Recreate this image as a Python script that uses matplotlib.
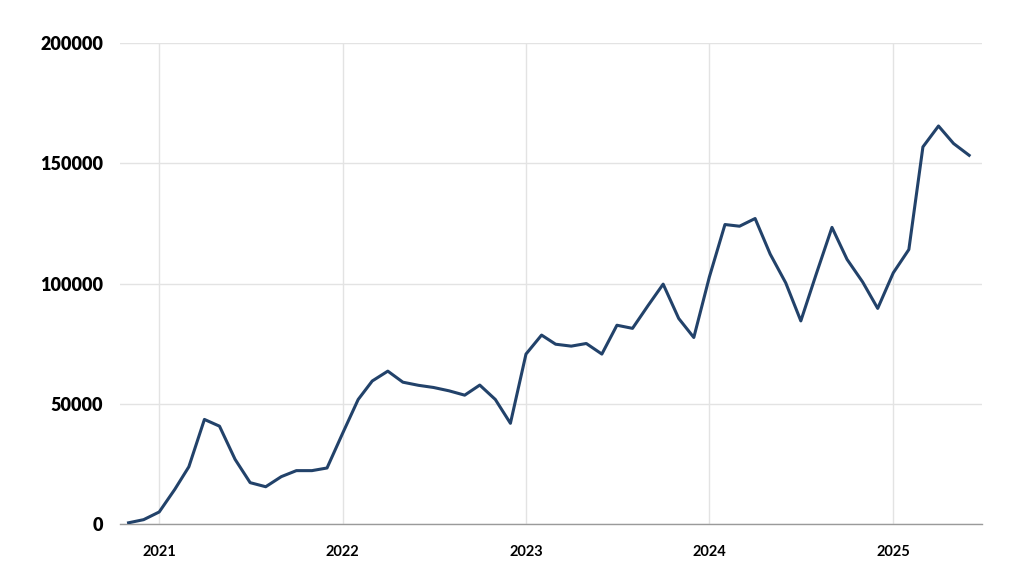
import matplotlib
matplotlib.use("Agg")
import matplotlib.dates as mdates
import matplotlib.pyplot as plt
import pandas as pd

# ── Data (monthly, Nov 2020 – Jun 2025) ───────────────────────────────────────

months = pd.date_range("2020-11-01", "2025-06-01", freq="MS")
values = [
    500, 1800,
    5000, 14400, 23800, 43500, 40700, 26900, 17200, 15500, 19700, 22200, 22200, 23300,
    37700, 51800, 59500, 63600, 59000, 57700, 56800, 55400, 53600, 57800, 51800, 41900,
    70700, 78600, 74800, 74000, 75100, 70700, 82700, 81400, 90900, 99800, 85500, 77600,
    102800, 124600, 123900, 127100, 112300, 100300, 84500, 104200, 123400, 110100, 100700, 89700,
    104500, 114200, 156900, 165600, 158300, 153400,
]
year_ticks = pd.to_datetime(["2021-01-01", "2022-01-01", "2023-01-01", "2024-01-01", "2025-01-01"])
y_ticks = [0, 50000, 100000, 150000, 200000]

LINE = "#22426a"
GRID = "#e3e3e3"

plt.rcParams["font.family"] = ["Lato", "DejaVu Sans"]
plt.rcParams["font.weight"] = "bold"

fig = plt.figure(figsize=(10.24, 5.76), dpi=100)
ax = fig.add_axes([0.1172, 0.0903, 0.8415, 0.8345])

ax.plot(months, values, color=LINE, lw=2.2, zorder=3)

ax.set_xlim(pd.Timestamp("2020-10-15"), pd.Timestamp("2025-06-26"))
ax.set_ylim(0, 200000)
ax.set_xticks(year_ticks)
ax.xaxis.set_major_formatter(mdates.DateFormatter("%Y"))
ax.set_yticks(y_ticks)
ax.set_yticklabels([str(v) for v in y_ticks], fontweight="heavy")

ax.grid(True, color=GRID, lw=1.0, zorder=0)
for side in ("top", "right", "left"):
    ax.spines[side].set_visible(False)
ax.spines["bottom"].set_color("#9a9a9a")
ax.spines["bottom"].set_linewidth(1.0)

ax.tick_params(axis="x", length=0, pad=15, labelsize=10.5)
ax.tick_params(axis="y", length=0, pad=12, labelsize=13)
for lab in ax.get_xticklabels():
    lab.set_fontweight("bold")

fig.savefig("out.png", dpi=100)
